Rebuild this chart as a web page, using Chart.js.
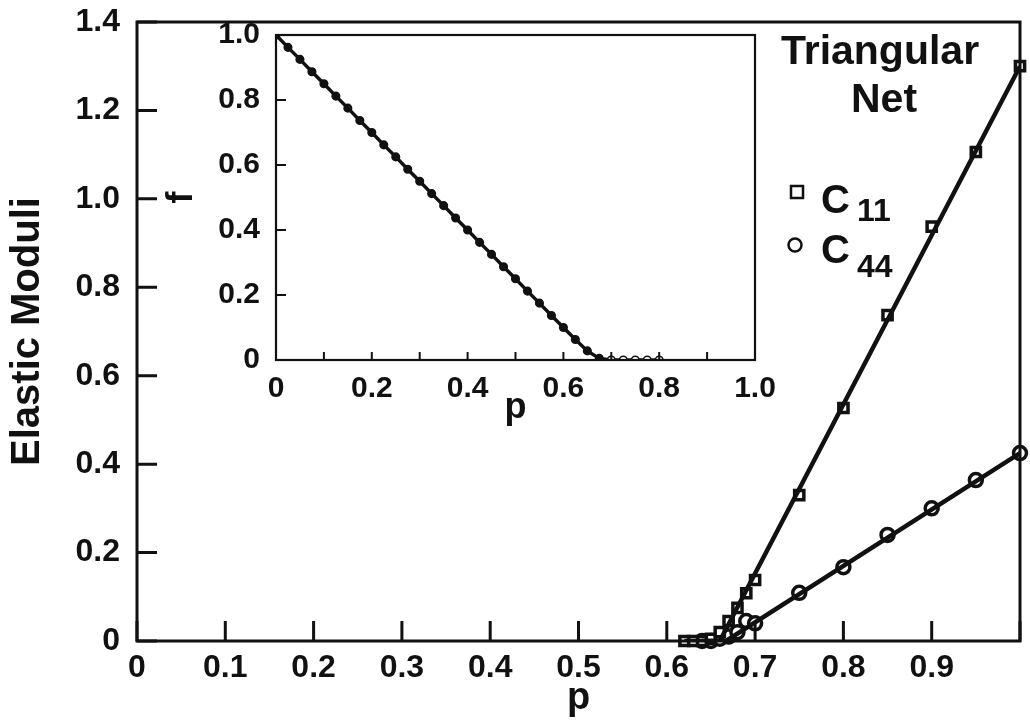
<!DOCTYPE html>
<html>
<head>
<meta charset="utf-8">
<script src="https://cdn.jsdelivr.net/npm/chart.js@4/dist/chart.umd.min.js"></script>
<style>
  html, body { margin: 0; padding: 0; background: #fff; }
  #wrap { position: relative; width: 1030px; height: 721px; overflow: hidden; }
  #main { position: absolute; left: 0; top: 0; }
  #inset { position: absolute; left: 160px; top: 10px; }
</style>
</head>
<body>
<div id="wrap">
  <canvas id="main" width="1030" height="721"></canvas>
  <canvas id="inset" width="630" height="420"></canvas>
</div>
<script>
var INK = "#111"
var FONT = "'Liberation Sans', Arial, sans-serif"

// main plot: elastic moduli vs p
var c11P = [0.62, 0.63, 0.64, 0.65, 0.66, 0.67, 0.68, 0.69, 0.70, 0.75, 0.80, 0.85, 0.90, 0.95, 1.0]
var c11Vals = [0, 0, 0, 0.005, 0.02, 0.045, 0.075, 0.108, 0.138, 0.33, 0.527, 0.737, 0.937, 1.106, 1.30]
var c44P = [0.64, 0.65, 0.66, 0.67, 0.68, 0.69, 0.70, 0.75, 0.80, 0.85, 0.90, 0.95, 1.0]
var c44Vals = [0, 0, 0.005, 0.01, 0.02, 0.045, 0.04, 0.109, 0.167, 0.24, 0.30, 0.364, 0.425]
// straight lines drawn through the data
var c11LineP = [0.62, 0.66, 1.0]
var c11LineVals = [0, 0, 1.30]
var c44LineP = [0.64, 0.667, 1.0]
var c44LineVals = [0, 0, 0.425]

// inset: f vs p
var fP = [0, 0.025, 0.05, 0.075, 0.1, 0.125, 0.15, 0.175, 0.2, 0.225, 0.25, 0.275, 0.3, 0.325,
  0.35, 0.375, 0.4, 0.425, 0.45, 0.475, 0.5, 0.525, 0.55, 0.575, 0.6, 0.625, 0.65,
  0.675, 0.7, 0.725, 0.75, 0.775, 0.8]
var fVals = [1.0, 0.962, 0.925, 0.887, 0.85, 0.812, 0.775, 0.737, 0.70, 0.662, 0.625, 0.587, 0.55, 0.512,
  0.475, 0.437, 0.40, 0.362, 0.325, 0.287, 0.25, 0.212, 0.175, 0.137, 0.10, 0.063, 0.028,
  0.005, 0, 0, 0, 0, 0]

var legendNames = ["C", "C"]
var legendSubs = ["11", "44"]

function pts(xs, ys) {
  return xs.map(function (x, i) { return {x: x, y: ys[i]} })
}

function fmt(v) {
  return Math.abs(v) < 1e-9 ? "0" : v.toFixed(1)
}

// keep the plot box where the layout padding puts it
function fixX(h) {
  return function (s) { s.height = h; s.paddingLeft = 0; s.paddingRight = 0 }
}
function fixY(w) {
  return function (s) { s.width = w; s.paddingTop = 0; s.paddingBottom = 0 }
}

// inward tick marks + closed frame
var frameTicks = {
  id: "frameTicks",
  afterDatasetsDraw: function (chart, args, opts) {
    var ctx = chart.ctx, a = chart.chartArea
    var x = chart.scales.x, y = chart.scales.y
    ctx.save()
    ctx.strokeStyle = INK
    ctx.lineWidth = opts.tickWidth
    ctx.beginPath()
    x.ticks.forEach(function (t) {
      var px = x.getPixelForValue(t.value)
      ctx.moveTo(px, a.bottom)
      ctx.lineTo(px, a.bottom - opts.xLen)
    })
    y.ticks.forEach(function (t) {
      var py = y.getPixelForValue(t.value)
      ctx.moveTo(a.left, py)
      ctx.lineTo(a.left + opts.yLen, py)
    })
    ctx.stroke()
    ctx.lineWidth = opts.frameWidth
    ctx.strokeRect(a.left, a.top, a.width, a.height)
    ctx.restore()
  }
}

// "Triangular Net" label and marker key
var keyText = {
  id: "keyText",
  afterDraw: function (chart) {
    var ctx = chart.ctx
    ctx.save()
    ctx.fillStyle = INK
    ctx.strokeStyle = INK
    ctx.font = "bold 41px " + FONT
    ctx.textAlign = "center"
    ctx.textBaseline = "middle"
    ctx.fillText("Triangular", 880, 53)
    ctx.fillText("Net", 884, 101)

    ctx.lineWidth = 2.5
    ctx.fillStyle = "#fff"
    ctx.fillRect(791, 186, 12, 12)
    ctx.strokeRect(791, 186, 12, 12)
    ctx.beginPath()
    ctx.arc(795, 245, 6.5, 0, Math.PI * 2)
    ctx.fill()
    ctx.stroke()

    ctx.fillStyle = INK
    ctx.textAlign = "left"
    ctx.textBaseline = "alphabetic"
    ctx.font = "bold 40px " + FONT
    ctx.fillText(legendNames[0], 821, 213)
    ctx.fillText(legendNames[1], 821, 263)
    ctx.font = "bold 32px " + FONT
    ctx.fillText(legendSubs[0], 857, 221)
    ctx.fillText(legendSubs[1], 857, 277)
    ctx.restore()
  }
}

Chart.defaults.font.family = FONT
Chart.defaults.font.weight = "bold"
Chart.defaults.color = INK

var mainChart = new Chart(document.getElementById("main"), {
  type: "scatter",
  data: {
    datasets: [{
      data: pts(c11LineP, c11LineVals),
      showLine: true,
      borderColor: INK,
      borderWidth: 4.5,
      pointRadius: 0
    }, {
      data: pts(c44LineP, c44LineVals),
      showLine: true,
      borderColor: INK,
      borderWidth: 4.5,
      pointRadius: 0
    }, {
      label: "C11",
      data: pts(c11P, c11Vals),
      pointStyle: "rect",
      pointRadius: 6.5,
      borderWidth: 3.5,
      borderColor: INK,
      backgroundColor: "#fff",
      clip: false
    }, {
      label: "C44",
      data: pts(c44P, c44Vals),
      pointStyle: "circle",
      pointRadius: 6.5,
      borderWidth: 3.5,
      borderColor: INK,
      backgroundColor: "#fff",
      clip: false
    }]
  },
  options: {
    responsive: false,
    animation: false,
    layout: {padding: {top: 22, right: 2, left: 0, bottom: 0}},
    plugins: {
      legend: {display: false},
      tooltip: {enabled: false},
      frameTicks: {xLen: 20, yLen: 20, tickWidth: 3, frameWidth: 3}
    },
    scales: {
      x: {
        type: "linear",
        min: 0,
        max: 1,
        grid: {display: false},
        border: {display: false},
        ticks: {
          stepSize: 0.1,
          autoSkip: false,
          maxRotation: 0,
          padding: 0,
          font: {size: 32, weight: "bold"},
          callback: function (v) { return Math.abs(v - 1) < 1e-9 ? "" : fmt(v) }
        },
        title: {display: true, text: "p", font: {size: 38, weight: "bold"}, padding: {top: 0, bottom: 0}},
        afterFit: fixX(80)
      },
      y: {
        min: 0,
        max: 1.4,
        grid: {display: false},
        border: {display: false},
        ticks: {
          stepSize: 0.2,
          padding: 9,
          font: {size: 32, weight: "bold"},
          callback: fmt
        },
        title: {display: true, text: "Elastic Moduli", font: {size: 40, weight: "bold"}, padding: {top: 4, bottom: 0}},
        afterFit: fixY(137)
      }
    }
  },
  plugins: [frameTicks, keyText]
})

var insetChart = new Chart(document.getElementById("inset"), {
  type: "scatter",
  data: {
    datasets: [{
      label: "f",
      data: pts(fP, fVals),
      showLine: true,
      borderColor: INK,
      borderWidth: 3.5,
      pointRadius: 3.8,
      pointBorderWidth: 1.5,
      pointBorderColor: INK,
      pointBackgroundColor: function (c) {
        return c.raw && c.raw.y > 0 ? INK : "#fff"
      }
    }]
  },
  options: {
    responsive: false,
    animation: false,
    layout: {padding: {top: 25, right: 35, left: 0, bottom: 0}},
    plugins: {
      legend: {display: false},
      tooltip: {enabled: false},
      frameTicks: {xLen: 8, yLen: 10, tickWidth: 2, frameWidth: 2.2}
    },
    scales: {
      x: {
        type: "linear",
        min: 0,
        max: 1,
        grid: {display: false},
        border: {display: false},
        ticks: {
          stepSize: 0.1,
          autoSkip: false,
          maxRotation: 0,
          padding: 3,
          font: {size: 30, weight: "bold"},
          callback: function (v) { return Math.round(v * 10) % 2 === 0 ? fmt(v) : "" }
        },
        title: {display: true, text: "p", font: {size: 36, weight: "bold"}, padding: {top: 0, bottom: 0}},
        afterFit: fixX(70)
      },
      y: {
        min: 0,
        max: 1,
        grid: {display: false},
        border: {display: false},
        ticks: {
          stepSize: 0.2,
          padding: 8,
          font: {size: 30, weight: "bold"},
          callback: fmt
        },
        title: {display: true, text: "f", font: {size: 36, weight: "bold"}, padding: {top: 0, bottom: 0}},
        afterFit: fixY(116)
      }
    }
  },
  plugins: [frameTicks]
})
</script>
</body>
</html>
